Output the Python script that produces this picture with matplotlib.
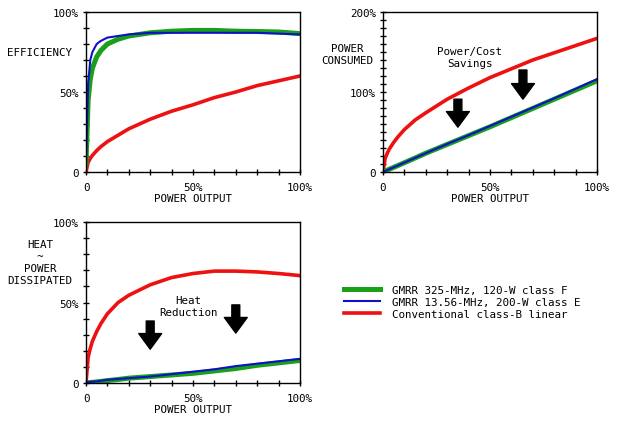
import matplotlib
matplotlib.use("Agg")
import matplotlib.pyplot as plt
from matplotlib.lines import Line2D

# ---- data (percent of full output) ----
x_out = [0, 1, 2, 3, 5, 7, 10, 15, 20, 30, 40, 50, 60, 70, 80, 90, 100]

eff_f = [5, 45, 58, 65, 72, 76, 80, 83, 85, 87, 88, 88.5, 88.5, 88, 87.8, 87.5, 86.5]
eff_e = [5, 55, 70, 75, 80, 82, 84, 85, 86, 87, 87, 87, 87, 87, 87, 86.5, 86]
eff_b = [0, 6, 8.5, 10.4, 13.4, 15.9, 19, 23, 27, 33, 38, 42, 46.5, 50, 54, 57, 60]

cons_f = [0, 1.2, 2.4, 3.5, 5.8, 8.1, 11.6, 17.5, 23.5, 34.5, 45.5, 56.5, 68, 79.5, 91, 102.5, 114]
cons_e = [0, 1.2, 2.4, 3.5, 5.9, 8.2, 11.8, 17.6, 23.5, 35, 46, 57.5, 69, 80.5, 92, 104, 116]
cons_b = [0, 17, 23.5, 29, 37, 44, 53, 65, 74, 91, 105, 118, 129, 140, 149, 158, 167]

heat_f = [0, 0.2, 0.3, 0.4, 0.7, 1.0, 1.5, 2.2, 3, 4, 5, 6, 7.5, 9, 11, 12.5, 14]
heat_e = [0.5, 0.6, 0.7, 0.8, 1.0, 1.4, 2, 2.5, 3, 4, 5.5, 7, 8.5, 10.5, 12, 13.5, 15]
heat_b = [0, 16, 21.5, 26, 32, 37, 43, 50, 54.5, 61, 65.5, 68, 69.5, 69.5, 69, 68, 66.7]

legend_labels = ["GMRR 325-MHz, 120-W class F",
                 "GMRR 13.56-MHz, 200-W class E",
                 "Conventional class-B linear"]

# ---- styles ----
C_F, C_E, C_B = "#18a018", "#1010c8", "#ee1111"
LW_F, LW_E, LW_B = 3.6, 1.5, 2.6
FONT = "DejaVu Sans Mono"
FS = 7.8

W, H = 624, 427
fig = plt.figure(figsize=(W / 100, H / 100), dpi=100)


def make_ax(left, top, right, bottom):
    return fig.add_axes([left / W, 1 - bottom / H, (right - left) / W, (bottom - top) / H])


def style(ax, ymax, yticks, ylabels):
    ax.set_xlim(0, 100)
    ax.set_ylim(0, ymax)
    ax.set_xticks([0, 50, 100])
    ax.set_xticklabels(["0", "50%", "100%"], fontsize=FS, family=FONT)
    ax.set_xticks(range(0, 101, 10), minor=True)
    ax.set_yticks(yticks)
    ax.set_yticklabels(ylabels, fontsize=FS, family=FONT)
    ax.set_yticks(range(0, ymax + 1, 10), minor=True)
    ax.tick_params(which="both", direction="inout", length=4, width=1, pad=3)
    ax.tick_params(axis="x", which="major", pad=5)
    for s in ax.spines.values():
        s.set_linewidth(1)
    ax.set_xlabel("POWER OUTPUT", fontsize=FS, family=FONT, labelpad=1)


def arrow(ax, x, y0, y1):
    ax.annotate("", xy=(x, y1), xytext=(x, y0),
                arrowprops=dict(arrowstyle="simple,head_length=0.75,head_width=1.1,tail_width=0.38",
                                color="black", mutation_scale=15, shrinkA=0, shrinkB=0))


# top-left: efficiency
ax1 = make_ax(86, 13, 300, 173)
ax1.plot(x_out, eff_b, color=C_B, lw=LW_B)
ax1.plot(x_out, eff_f, color=C_F, lw=LW_F)
ax1.plot(x_out, eff_e, color=C_E, lw=LW_E)
style(ax1, 100, [0, 50, 100], ["0", "50%", "100%"])
fig.text(40 / W, 1 - 53 / H, "EFFICIENCY", ha="center", va="center", fontsize=FS, family=FONT)

# top-right: power consumed
ax2 = make_ax(383, 13, 597, 173)
ax2.plot(x_out, cons_b, color=C_B, lw=LW_B)
ax2.plot(x_out, cons_f, color=C_F, lw=LW_F)
ax2.plot(x_out, cons_e, color=C_E, lw=LW_E)
style(ax2, 200, [0, 100, 200], ["0", "100%", "200%"])
fig.text(347 / W, 1 - 55 / H, "POWER\nCONSUMED", ha="center", va="center", fontsize=FS,
         family=FONT, linespacing=1.3)
ax2.text(40.5, 144, "Power/Cost\nSavings", ha="center", va="center", fontsize=FS,
         family=FONT, linespacing=1.3)
arrow(ax2, 35, 91, 56)
arrow(ax2, 65.4, 127.5, 91)

# bottom-left: heat
ax3 = make_ax(86, 223, 300, 384)
ax3.plot(x_out, heat_b, color=C_B, lw=LW_B)
ax3.plot(x_out, heat_f, color=C_F, lw=LW_F)
ax3.plot(x_out, heat_e, color=C_E, lw=LW_E)
style(ax3, 100, [0, 50, 100], ["0", "50%", "100%"])
fig.text(40 / W, 1 - 263 / H, "HEAT\n~\nPOWER\nDISSIPATED", ha="center", va="center",
         fontsize=FS, family=FONT, linespacing=1.25)
ax3.text(47.7, 48, "Heat\nReduction", ha="center", va="center", fontsize=FS,
         family=FONT, linespacing=1.3)
arrow(ax3, 30, 38.5, 21)
arrow(ax3, 70, 48.5, 31)

# legend
handles = [Line2D([], [], color=C_F, lw=LW_F),
           Line2D([], [], color=C_E, lw=LW_E),
           Line2D([], [], color=C_B, lw=LW_B)]
fig.legend(handles, legend_labels, loc="upper left", bbox_to_anchor=(336 / W, 1 - 278 / H),
           frameon=False, prop={"family": FONT, "size": FS},
           handlelength=3.4, handletextpad=1.1, labelspacing=0.2, borderpad=0.2)

fig.savefig("out.png", dpi=100)
